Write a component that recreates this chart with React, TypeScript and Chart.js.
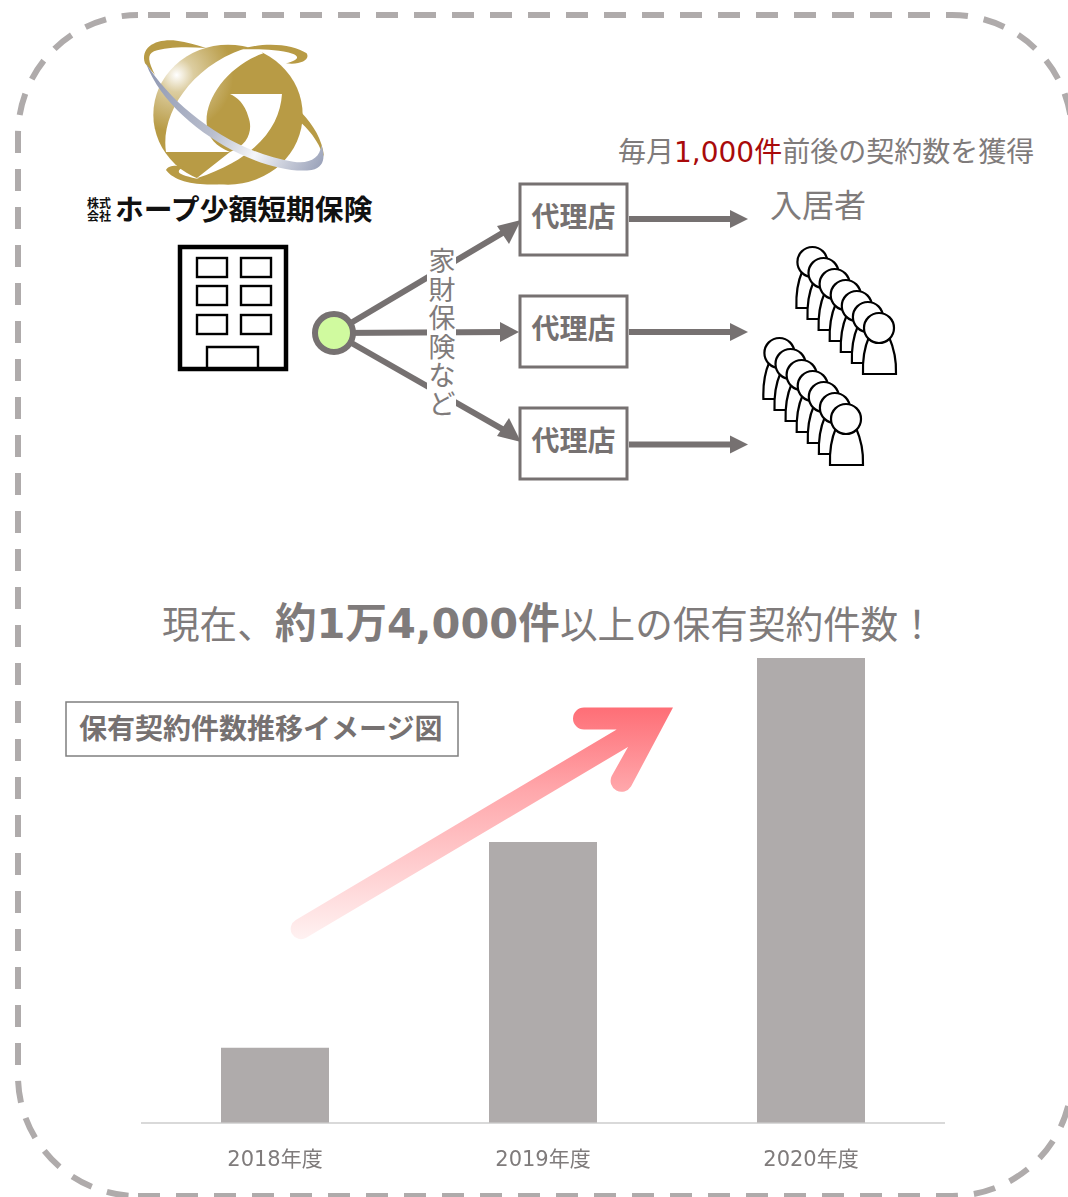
import React, { useEffect, useRef } from "react";
import { Chart, registerables } from "chart.js";

Chart.register(...registerables);

const categories = ["2018年度", "2019年度", "2020年度"];
const contractCounts = [2260, 8460, 14000];
const axisMax = 14000;

const FONT = '"DejaVu Sans","Noto Sans CJK JP",sans-serif';
const CJK = '"Noto Sans CJK JP",sans-serif';
const GRAY = "#767171";
const TEXT = "#7F7B7B";
const BAR = "#AFABAB";

const agentRows = [184, 296, 408];
const outArrowY = [219, 332, 444.5];
const branchEnds = [
  [521, 221],
  [519, 332],
  [521, 441],
];
const verticalLabel = ["家", "財", "保", "険", "な", "ど"];
const windowXs = [197, 241];
const windowYs = [258, 286, 315];
const crowds = [
  [879, 328],
  [846, 419],
];

function Person({ x, y }: { x: number; y: number }) {
  return (
    <g fill="#fff" stroke="#000" strokeWidth={2.2}>
      <path d={`M${x - 16},${y + 46} C${x - 16.5},${y + 32} ${x - 14},${y + 18} ${x - 10},${y + 9} L${x + 10},${y + 9} C${x + 14},${y + 18} ${x + 17.5},${y + 32} ${x + 17},${y + 46} Z`} />
      <circle cx={x} cy={y} r={15} />
    </g>
  );
}

function Logo() {
  return (
    <g transform="translate(80,30) scale(0.3333)">
      <ellipse cx={444} cy={254} rx={224} ry={210} fill="url(#gold)" />
      <path d="M550,70 C450,105 375,200 380,280 C382,325 410,350 450,366 L258,366 C240,250 340,95 520,48 Z" fill="#fff" />
      <path d="M450,192 L606,192 C600,290 530,385 350,445 L450,366 C505,345 520,300 505,260 C495,222 470,200 450,192 Z" fill="#fff" />
      <path d="M195,100 C180,50 230,25 290,32 C320,36 350,44 378,54 C320,50 260,50 222,64 C200,74 205,95 225,135 Z" fill="#B89B45" />
      <path d="M480,58 C560,34 640,44 680,70 C692,90 660,106 618,100 C650,92 662,82 640,72 C590,56 530,58 480,58 Z" fill="#B89B45" />
      <path d="M665,248 C700,285 728,330 732,380 L716,345 C700,315 682,295 660,275 Z" fill="#B89B45" />
      <path d="M258,420 C265,405 290,405 312,410 C300,415 290,425 302,431 C340,450 420,455 470,455 C400,472 290,466 258,420 Z" fill="#B89B45" />
      <path d="M198,100 C280,230 450,365 640,395 C690,402 720,385 724,345 C735,375 736,412 695,420 C640,428 560,410 480,372 C360,315 240,215 198,100 Z" fill="url(#ribbon)" />
    </g>
  );
}

function Diagram() {
  return (
    <svg width={1068} height={1197} style={{ position: "absolute", left: 0, top: 0 }}>
      <defs>
        <radialGradient id="gold" gradientUnits="userSpaceOnUse" cx={290} cy={135} r={170}>
          <stop offset="0" stopColor="#FFFFFF" />
          <stop offset="0.3" stopColor="#DCCDA0" />
          <stop offset="1" stopColor="#B89B45" />
        </radialGradient>
        <linearGradient id="ribbon" gradientUnits="userSpaceOnUse" x1={198} y1={100} x2={735} y2={400}>
          <stop offset="0" stopColor="#8E97B2" />
          <stop offset="0.45" stopColor="#B9BECD" />
          <stop offset="0.68" stopColor="#F4F5F8" />
          <stop offset="1" stopColor="#98A0B8" />
        </linearGradient>
        <linearGradient id="pink" gradientUnits="userSpaceOnUse" x1={0} y1={707} x2={0} y2={938}>
          <stop offset="0" stopColor="#FE6E76" />
          <stop offset="0.36" stopColor="#FFA7AB" />
          <stop offset="1" stopColor="#FFF1F1" />
        </linearGradient>
      </defs>

      <g fill="none" stroke={BAR} strokeWidth={6} strokeDasharray="22 16">
        <path d="M138,15 H952 A120,120 0 0 1 1072,135 V1076" strokeDashoffset={28} />
        <path d="M138,1196 H952 A120,120 0 0 0 1072,1076" strokeDashoffset={0} />
        <path d="M138,1196 A120,120 0 0 1 18,1076 V135 A120,120 0 0 1 138,15" strokeDashoffset={28.5} />
      </g>

      <Logo />
      <g fontFamily={CJK} fontWeight={700} fill="#111">
        <text x={87} y={208} fontSize={12}>株式</text>
        <text x={87} y={221} fontSize={12}>会社</text>
        <text x={115} y={220} fontSize={28.8}>ホープ少額短期保険</text>
      </g>

      <g fill="none" stroke="#000">
        <rect x={180} y={247} width={106} height={122} strokeWidth={4.5} />
        {windowYs.map((wy) =>
          windowXs.map((wx) => <rect key={`${wx}-${wy}`} x={wx} y={wy} width={30} height={19} strokeWidth={2.4} />)
        )}
        <path d="M207,368 V347 H258 V368" strokeWidth={2.4} />
      </g>

      <g stroke={GRAY} strokeWidth={6} fill="none">
        {branchEnds.map(([ex, ey], i) => (
          <line key={i} x1={334} y1={333} x2={ex - (i === 1 ? 14 : 12)} y2={ey + (i === 0 ? 8 : i === 2 ? -8 : 0)} />
        ))}
      </g>
      <g fill={GRAY}>
        <path d="M521,220 L497,226 L509,244 Z" />
        <path d="M519,332 L500,322 L500,342 Z" />
        <path d="M521,442 L497,436 L509,418 Z" />
      </g>
      <circle cx={334} cy={333} r={19} fill="#D0FA9F" stroke={GRAY} strokeWidth={6} />
      <rect x={427} y={248} width={29} height={171} fill="#fff" />
      <g fontFamily={CJK} fontSize={27} fill={TEXT} textAnchor="middle">
        {verticalLabel.map((c, i) => (
          <text key={c} x={442} y={271 + i * 28.6}>{c}</text>
        ))}
      </g>

      {agentRows.map((y) => (
        <g key={y}>
          <rect x={520} y={y} width={107} height={71} fill="#fff" stroke={GRAY} strokeWidth={3} />
          <text x={573.5} y={y + 43} fontFamily={CJK} fontWeight={700} fontSize={28} fill={GRAY} textAnchor="middle">代理店</text>
        </g>
      ))}
      {outArrowY.map((y) => (
        <g key={y} fill={GRAY}>
          <rect x={629} y={y - 3} width={103} height={6} />
          <path d={`M730,${y - 9} L748,${y} L730,${y + 9} Z`} />
        </g>
      ))}

      <text x={618} y={162} fontFamily={FONT} fontSize={28} fill={TEXT}>
        <tspan fontFamily={CJK}>毎月</tspan>
        <tspan fill="#A90A0A">1,000</tspan>
        <tspan fill="#A90A0A" fontFamily={CJK}>件</tspan>
        <tspan fontFamily={CJK}>前後の契約数を獲得</tspan>
      </text>
      <text x={770} y={217} fontFamily={CJK} fontSize={32} fill={TEXT}>入居者</text>

      {crowds.map(([fx, fy]) =>
        [6, 5, 4, 3, 2, 1, 0].map((k) => <Person key={`${fx}-${k}`} x={fx - k * 11.1} y={fy - k * 11} />)
      )}

      <text y={638} fontFamily={FONT} fontSize={37.6} fill={TEXT}>
        <tspan x={162} fontFamily={CJK}>現在、</tspan>
        <tspan x={275} fontFamily={CJK} fontWeight={700} fontSize={41.5}>約</tspan>
        <tspan fontWeight={700} fontSize={41.5}>1</tspan>
        <tspan fontFamily={CJK} fontWeight={700} fontSize={41.5}>万</tspan>
        <tspan fontWeight={700} fontSize={41.5}>4,000</tspan>
        <tspan fontFamily={CJK} fontWeight={700} fontSize={41.5}>件</tspan>
        <tspan x={560} fontFamily={CJK}>以上の保有契約件数！</tspan>
      </text>

      <rect x={66} y={702} width={392} height={54} fill="#fff" stroke="#7F7F7F" strokeWidth={1.5} />
      <text x={79} y={739} fontFamily={CJK} fontWeight={700} fontSize={28} fill={GRAY}>保有契約件数推移イメージ図</text>

      <path
        d="M673,707.5 L584,707.5 A11,11 0 0 0 584,729.5 L616.7,729.5 L295.8,920 A10.3,10.3 0 0 0 306.2,937.8 L628,747 L611.7,776 A11,11 0 0 0 631,786.5 Z"
        fill="url(#pink)"
      />
    </svg>
  );
}

export default function App() {
  const ref = useRef<HTMLCanvasElement>(null);
  useEffect(() => {
    if (!ref.current) return;
    const chart = new Chart(ref.current, {
      type: "bar",
      data: {
        labels: categories,
        datasets: [
          {
            label: "保有契約件数",
            data: contractCounts,
            backgroundColor: BAR,
            borderWidth: 0,
            barPercentage: 0.403,
            categoryPercentage: 1,
          },
        ],
      },
      options: {
        responsive: false,
        animation: false,
        layout: { padding: { top: 18, left: 0, right: 0, bottom: 0 } },
        plugins: { legend: { display: false }, tooltip: { enabled: false }, title: { display: false } },
        scales: {
          x: {
            grid: { display: false, drawTicks: false },
            border: { color: "#D9D9D9", width: 2 },
            ticks: { color: TEXT, padding: 25, font: { family: FONT, size: 21 }, maxRotation: 0 },
          },
          y: { display: false, min: 0, max: axisMax },
        },
      },
    });
    return () => chart.destroy();
  }, []);

  return (
    <div style={{ position: "absolute", left: 0, top: 0, width: 1068, height: 1197, overflow: "hidden", background: "#fff" }}>
      <Diagram />
      <canvas ref={ref} width={804} height={558} style={{ position: "absolute", left: 141, top: 640, display: "block" }} />
    </div>
  );
}
